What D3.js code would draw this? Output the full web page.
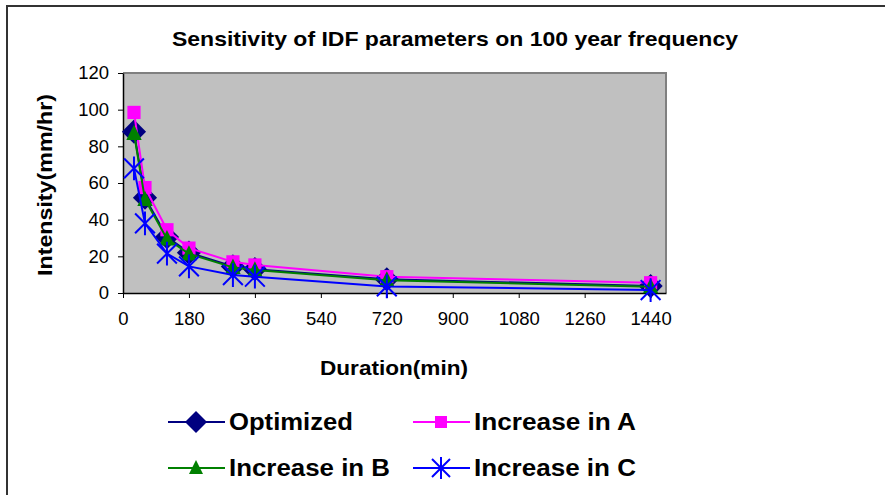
<!DOCTYPE html>
<html><head><meta charset="utf-8">
<script src="https://cdn.jsdelivr.net/npm/d3@7"></script>
<style>body{margin:0;background:#fff;}svg{display:block;font-family:"Liberation Sans",Arial,sans-serif;}</style>
</head><body>
<svg id="c" width="885" height="495"></svg>
<script>
const durations = [30, 60, 120, 180, 300, 360, 720, 1440];
const optimized = [88, 52, 30.5, 22, 14.5, 13, 7.5, 3.8];
const increaseA = [98.5, 57.5, 34.5, 24.5, 17, 15.3, 8.9, 5.6];
const increaseB = [87, 51, 29.5, 21.3, 14, 12.5, 7, 3.4];
const increaseC = [68, 38, 21.5, 14.5, 9.8, 8.9, 3.6, 1.6];
const xTicks = [0, 180, 360, 540, 720, 900, 1080, 1260, 1440];
const yTicks = [0, 20, 40, 60, 80, 100, 120];
const seriesNames = ["Optimized", "Increase in A", "Increase in B", "Increase in C"];

const svg = d3.select("#c");
svg.append("rect").attr("x", 7).attr("y", 6).attr("width", 900).attr("height", 520)
  .attr("fill", "#fff").attr("stroke", "#333").attr("stroke-width", 2);

const L = 123, R = 666, T = 73, B = 293;
const x = d3.scaleLinear().domain([0, 1482]).range([L, R]);
const y = d3.scaleLinear().domain([0, 120]).range([B, T]);

svg.append("rect").attr("x", L).attr("y", T).attr("width", R - L).attr("height", B - T)
  .attr("fill", "#c0c0c0");
svg.append("path").attr("d", `M${L},${T}H${R}V${B}`).attr("fill", "none")
  .attr("stroke", "#808080").attr("stroke-width", 2);

const xAxis = svg.append("g").attr("transform", `translate(0,${B})`)
  .call(d3.axisBottom(x).tickValues(xTicks).tickFormat(d3.format("d")).tickSize(5).tickSizeOuter(0).tickPadding(14));
const yAxis = svg.append("g").attr("transform", `translate(${L},0)`)
  .call(d3.axisLeft(y).tickValues(yTicks).tickFormat(d3.format("d")).tickSize(5).tickSizeOuter(0).tickPadding(9));
[xAxis, yAxis].forEach(a => {
  a.select(".domain").attr("stroke", "#000").attr("stroke-width", 1.5);
  a.selectAll(".tick line").attr("stroke", "#000");
  a.selectAll(".tick text").attr("font-size", 18.5).attr("fill", "#000")
    .attr("font-family", "Liberation Sans, Arial, sans-serif");
});

svg.append("text").attr("x", 455).attr("y", 46).attr("text-anchor", "middle")
  .attr("font-size", 21).attr("font-weight", "bold").attr("textLength", 566)
  .attr("lengthAdjust", "spacingAndGlyphs").text("Sensitivity of IDF parameters on 100 year frequency");
svg.append("text").attr("x", 394).attr("y", 375).attr("text-anchor", "middle")
  .attr("font-size", 20).attr("font-weight", "bold").attr("textLength", 148)
  .attr("lengthAdjust", "spacingAndGlyphs").text("Duration(min)");
svg.append("text").attr("transform", "translate(52,185) rotate(-90)").attr("text-anchor", "middle")
  .attr("font-size", 20).attr("font-weight", "bold").attr("textLength", 182)
  .attr("lengthAdjust", "spacingAndGlyphs").text("Intensity(mm/hr)");

const series = [
  {name: seriesNames[0], vals: optimized, color: "#000080", marker: "diamond", w: 124},
  {name: seriesNames[1], vals: increaseA, color: "#ff00ff", marker: "square", w: 162},
  {name: seriesNames[2], vals: increaseB, color: "#008000", marker: "triangle", w: 161},
  {name: seriesNames[3], vals: increaseC, color: "#0000ff", marker: "star", w: 162}
];

function drawMarker(g, type, cx, cy, color, k) {
  k = k || 1;
  if (type === "diamond") {
    const s = 11 * k;
    g.append("path").attr("d", `M${cx},${cy-s}L${cx+s},${cy}L${cx},${cy+s}L${cx-s},${cy}Z`).attr("fill", color);
  } else if (type === "square") {
    const s = 6 * k;
    g.append("rect").attr("x", cx-s).attr("y", cy-s).attr("width", 2*s).attr("height", 2*s).attr("fill", color);
  } else if (type === "triangle") {
    g.append("path").attr("d", `M${cx},${cy-8*k}L${cx+7*k},${cy+6*k}L${cx-7*k},${cy+6*k}Z`).attr("fill", color);
  } else if (type === "star") {
    const s = 9 * k;
    g.append("path").attr("d",
      `M${cx-s},${cy-s}L${cx+s},${cy+s}M${cx-s},${cy+s}L${cx+s},${cy-s}M${cx},${cy-s-2}L${cx},${cy+s+2}`)
      .attr("stroke", color).attr("stroke-width", 2).attr("fill", "none");
  }
}

const line = d3.line().x((d, i) => x(durations[i])).y(d => y(d));
series.forEach(s => {
  const g = svg.append("g");
  g.append("path").datum(s.vals).attr("d", line).attr("fill", "none")
    .attr("stroke", s.color).attr("stroke-width", 2);
  s.vals.forEach((v, i) => drawMarker(g, s.marker, x(durations[i]), y(v), s.color, 1.1));
});

const legendPos = [[168, 422], [413, 422], [168, 468], [413, 468]];
series.forEach((s, i) => {
  const [lx, ly] = legendPos[i];
  const g = svg.append("g");
  g.append("line").attr("x1", lx).attr("x2", lx + 57).attr("y1", ly).attr("y2", ly)
    .attr("stroke", s.color).attr("stroke-width", 2);
  drawMarker(g, s.marker, lx + 28, ly, s.color, 1);
  g.append("text").attr("x", lx + 61).attr("y", ly + 8).attr("font-size", 23)
    .attr("font-weight", "bold").attr("textLength", s.w).attr("lengthAdjust", "spacingAndGlyphs")
    .text(s.name);
});
</script>
</body></html>
